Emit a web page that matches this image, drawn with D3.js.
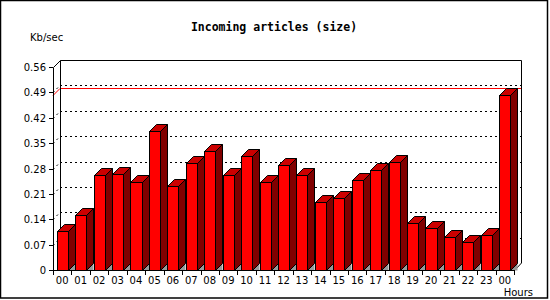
<!DOCTYPE html>
<html><head><meta charset="utf-8">
<script src="https://cdn.jsdelivr.net/npm/d3@7"></script>
<style>body{margin:0;background:#fff}svg{display:block}text{font-family:"DejaVu Sans",sans-serif;}</style>
</head><body>
<svg id="c" width="550" height="300"></svg>
<script>
const hours = ["00","01","02","03","04","05","06","07","08","09","10","11","12","13","14","15","16","17","18","19","20","21","22","23","00"];
const values = [0.108,0.151,0.262,0.265,0.242,0.383,0.231,0.295,0.328,0.262,0.314,0.242,0.290,0.262,0.187,0.198,0.248,0.276,0.297,0.129,0.115,0.090,0.076,0.096,0.483];
const yTicks = [0,0.07,0.14,0.21,0.28,0.35,0.42,0.49,0.56];
const yTickLabels = ["0","0.07","0.14","0.21","0.28","0.35","0.42","0.49","0.56"];
const refLine = 0.483;

const svg = d3.select("#c");
const D = 7;
const x = d3.scaleBand().domain(d3.range(hours.length)).range([53, 514]).paddingInner(0).paddingOuter(0);
const y = d3.scaleLinear().domain([0, 0.56]).range([270, 67]);
const X0 = 53, X1 = 514, Y0 = 270;

// frame
svg.append("rect").attr("x",0.5).attr("y",0.5).attr("width",547).attr("height",297.5)
  .attr("fill","none").attr("stroke","#000").attr("stroke-width",1.5);

// title
svg.append("text").attr("x",274).attr("y",30.5).attr("text-anchor","middle")
  .style("font-family","'DejaVu Sans Mono',monospace")
  .style("font-size","11.5px").style("font-weight","bold").text("Incoming articles (size)");
svg.append("text").attr("x",30).attr("y",40.5).style("font-size","10px").text("Kb/sec");
svg.append("text").attr("x",533).attr("y",296).attr("text-anchor","end").style("font-size","10px").text("Hours");

// back wall
const g = svg.append("g");
yTicks.slice(1, -1).forEach(v => {
  const yy = Math.round(y(v)) - D + 0.5;
  g.append("line").attr("x1",X0+D).attr("x2",X1+D).attr("y1",yy).attr("y2",yy)
    .attr("stroke","#000").attr("stroke-dasharray","2,3");
  g.append("line").attr("x1",X0).attr("y1",yy+D).attr("x2",X0+D).attr("y2",yy)
    .attr("stroke","#000").attr("stroke-dasharray","2,3");
});
{
  const yy = Math.round(y(refLine)) + 0.5;
  g.append("polyline").attr("points",`${X0},${yy} ${X0+D},${yy-D} ${X1+D},${yy-D}`)
    .attr("fill","none").attr("stroke","#ff0000").attr("stroke-width",1);
}
const yTop = Math.round(y(0.56)) + 0.5;
g.append("polyline").attr("points",`${X0+0.5},${yTop} ${X0+D+0.5},${yTop-D} ${X1+D+0.5},${yTop-D} ${X1+D+0.5},${Y0-D} ${X1+0.5},${Y0+0.5}`)
  .attr("fill","none").attr("stroke","#000");
g.append("line").attr("x1",X0+D+0.5).attr("x2",X0+D+0.5).attr("y1",yTop-D).attr("y2",Y0-D).attr("stroke","#000");

// bars
const fw = x.bandwidth()*0.6;
const bars = svg.append("g");
values.forEach((v,i) => {
  const xl = Math.round(x(i) + (x.bandwidth()-fw)/2) + 0.5;
  const xr = Math.round(x(i) + (x.bandwidth()+fw)/2) + 0.5;
  const yt = Math.round(y(v)) + 0.5;
  const yb = Y0 + 0.5;
  bars.append("polygon").attr("points",`${xr},${yb} ${xr+D},${yb-D} ${xr+D},${yb}`)
    .attr("fill","#999999").attr("stroke","none");
  bars.append("polygon").attr("points",`${xr},${yt} ${xr+D},${yt-D} ${xr+D},${yb-D} ${xr},${yb}`)
    .attr("fill","#800000").attr("stroke","#000");
  bars.append("polygon").attr("points",`${xl},${yt} ${xl+D},${yt-D} ${xr+D},${yt-D} ${xr},${yt}`)
    .attr("fill","#cc0000").attr("stroke","#000");
  bars.append("rect").attr("x",xl).attr("y",yt).attr("width",xr-xl).attr("height",yb-yt)
    .attr("fill","#ff0000").attr("stroke","#000");
});

// front axes
svg.append("line").attr("x1",X0+0.5).attr("x2",X0+0.5).attr("y1",yTop).attr("y2",Y0+0.5).attr("stroke","#000");
svg.append("line").attr("x1",X0).attr("x2",X1+1).attr("y1",Y0+0.5).attr("y2",Y0+0.5).attr("stroke","#000");

yTicks.forEach((v,i) => {
  const yy = Math.round(y(v)) + 0.5;
  svg.append("line").attr("x1",49).attr("x2",53).attr("y1",yy).attr("y2",yy).attr("stroke","#000");
  svg.append("text").attr("x",46).attr("y",yy+3.5).attr("text-anchor","end").style("font-size","10px").text(yTickLabels[i]);
});
d3.range(hours.length+1).forEach(i => {
  const xx = Math.round(i < hours.length ? x(i) : X1) + 0.5;
  svg.append("line").attr("x1",xx).attr("x2",xx).attr("y1",Y0).attr("y2",Y0+5).attr("stroke","#000");
});
hours.forEach((h,i) => {
  svg.append("text").attr("x",x(i)+x.bandwidth()/2).attr("y",283.5).attr("text-anchor","middle")
    .style("font-size","10px").text(h);
});
</script>
</body></html>
